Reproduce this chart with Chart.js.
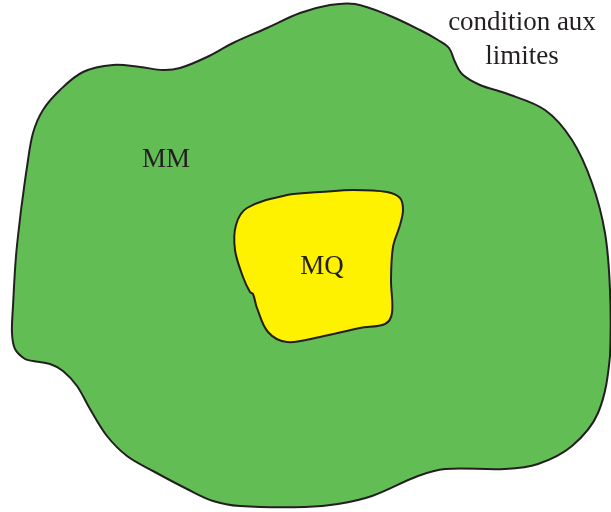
<!DOCTYPE html>
<html>
<head>
<meta charset="utf-8">
<script src="https://cdn.jsdelivr.net/npm/chart.js@4"></script>
<style>
  body { margin: 0; background: #fff; }
  #wrap { width: 611px; height: 512px; }
</style>
</head>
<body>
<div id="wrap"><canvas id="diagram" width="611" height="512"></canvas></div>
<script>
// contour du milieu MM (coordonnees)
const outerX = [21, 27, 33, 43, 60, 83, 113, 140, 163, 180, 207, 233, 267, 300, 330, 355, 388, 420, 438, 449, 455, 462, 480, 505, 545, 572, 592, 605, 610, 610, 598, 572, 538, 505, 445, 418, 372, 338, 305, 240, 213, 187, 153, 127, 107, 90, 77, 63, 50, 33, 25, 15, 12, 13, 16, 21];
const outerY = [210, 167, 133, 110, 90, 72, 65, 67, 70, 68, 57, 43, 28, 13, 5, 4, 15, 30, 40, 48, 62, 74, 85, 93, 110, 140, 183, 233, 290, 356, 413, 446, 464, 469, 469, 476, 496, 504, 507, 506, 501, 489, 471, 456, 436, 409, 386, 371, 364, 361, 359, 349, 333, 306, 256, 210];

// contour de la zone MQ
const innerX = [320, 353, 387, 400, 403, 400, 393, 391, 392, 385, 360, 320, 287, 268, 257, 253, 250, 243, 235, 236, 247, 287, 320];
const innerY = [192, 190, 192, 198, 210, 225, 247, 280, 313, 324, 328, 337, 342, 332, 308, 294, 292, 277, 250, 225, 208, 195, 192];

// textes
const labelTexts = ['MM', 'MQ', 'condition aux', 'limites'];
const labelX = [166, 322, 522, 522];
const labelY = [160, 267, 23, 57];

function toPoints(xs, ys) {
  return xs.map((x, i) => ({ x: x, y: ys[i] }));
}

// plugin pour ecrire les etiquettes
const labelPlugin = {
  id: 'labels',
  afterDatasetsDraw(chart) {
    const ctx = chart.ctx;
    const sx = chart.scales.x, sy = chart.scales.y;
    ctx.save();
    ctx.font = '27px "Liberation Serif", "Times New Roman", serif';
    ctx.fillStyle = '#231F20';
    ctx.textAlign = 'center';
    ctx.textBaseline = 'middle';
    labelTexts.forEach((t, i) => {
      ctx.fillText(t, sx.getPixelForValue(labelX[i]), sy.getPixelForValue(labelY[i]));
    });
    ctx.restore();
  }
};

const ctx = document.getElementById('diagram').getContext('2d');
new Chart(ctx, {
  type: 'scatter',
  data: {
    datasets: [
      {
        label: 'MQ',
        data: toPoints(innerX, innerY),
        showLine: true,
        fill: 'shape',
        backgroundColor: '#FFF200',
        borderColor: '#231F20',
        borderWidth: 2,
        tension: 0.35,
        pointRadius: 0,
        clip: false,
        order: 1
      },
      {
        label: 'MM',
        data: toPoints(outerX, outerY),
        showLine: true,
        fill: 'shape',
        backgroundColor: '#62BD55',
        borderColor: '#231F20',
        borderWidth: 2,
        tension: 0.35,
        pointRadius: 0,
        clip: false,
        order: 2
      }
    ]
  },
  options: {
    responsive: false,
    animation: false,
    layout: { padding: 0 },
    plugins: {
      legend: { display: false },
      tooltip: { enabled: false }
    },
    scales: {
      x: { type: 'linear', min: 0, max: 611, display: false },
      y: { type: 'linear', min: 0, max: 512, reverse: true, display: false }
    }
  },
  plugins: [labelPlugin]
});
</script>
</body>
</html>
